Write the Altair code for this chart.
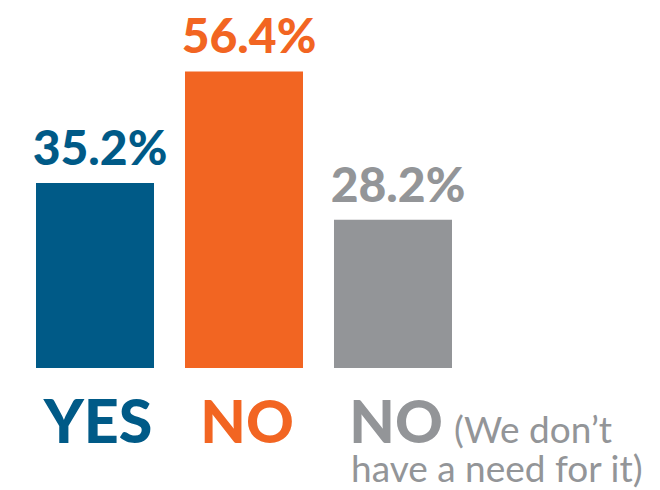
import altair as alt
import pandas as pd

categories = ["YES", "NO", "NO_NEED"]
labels = ["YES", "NO", "NO"]
values = [35.2, 56.4, 28.2]
value_text = ["35.2%", "56.4%", "28.2%"]
colors = ["#005a87", "#f26522", "#939598"]

note_cat = ["NO_NEED", "NO_NEED"]
note_text = ["(We don\u2019t", "have a need for it)"]
note_line = [0, 1]

df = pd.DataFrame({"cat": categories, "label": labels, "value": values, "txt": value_text})
notes = pd.DataFrame({"cat": note_cat, "txt": note_text, "line": note_line})

FONT = "Lato"
color_scale = alt.Scale(domain=categories, range=colors)

label_expr = "datum.value == 'YES' ? 'YES' : 'NO'"
color_expr = ("datum.value == 'YES' ? '#005a87' : "
              "(datum.value == 'NO' ? '#f26522' : '#939598')")
size_expr = "datum.value == 'YES' ? 61 : 59"

x = alt.X("cat:N", sort=categories,
          scale=alt.Scale(paddingInner=0.208, paddingOuter=0),
          axis=alt.Axis(title=None, domain=False, ticks=False, tickSize=0,
                        labelExpr=label_expr, labelAngle=0,
                        labelColor=alt.ExprRef(expr=color_expr),
                        labelFontSize=alt.ExprRef(expr=size_expr),
                        labelFont=FONT, labelFontWeight=900,
                        labelBaseline="alphabetic", labelPadding=74,
                        labelOffset=3))
y = alt.Y("value:Q", scale=alt.Scale(domain=[0, 69.7]), axis=None)

bars = alt.Chart(df).mark_bar().encode(
    x=x, y=y,
    color=alt.Color("cat:N", scale=color_scale, legend=None),
)

vals = alt.Chart(df).mark_text(
    font=FONT, fontSize=48, fontWeight=900, baseline="alphabetic",
    align="center", dy=-18, dx=5,
).encode(
    x=alt.X("cat:N", sort=categories), y="value:Q", text="txt:N",
    color=alt.Color("cat:N", scale=color_scale, legend=None),
)

note1 = alt.Chart(notes).transform_filter("datum.line == 0").mark_text(
    font=FONT, fontSize=37, baseline="alphabetic", align="left",
    dx=61, dy=75, color="#939598",
).encode(x=alt.X("cat:N", sort=categories), y=alt.datum(0), text="txt:N")

note2 = alt.Chart(notes).transform_filter("datum.line == 1").mark_text(
    font=FONT, fontSize=37, baseline="alphabetic", align="left",
    dx=-42, dy=114, color="#939598",
).encode(x=alt.X("cat:N", sort=categories), y=alt.datum(0), text="txt:N")

chart = alt.layer(bars, vals, note1, note2).properties(
    width=416, height=368,
    background="white",
    autosize=alt.AutoSizeParams(type="none"),
    padding={"left": 36, "top": 0, "right": 208, "bottom": 122},
).configure_view(strokeWidth=0, stroke="transparent")

chart.save("out.html", embed_options={"renderer": "svg", "actions": False})
